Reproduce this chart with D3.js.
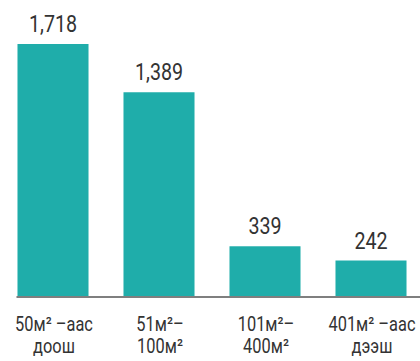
<!DOCTYPE html>
<html>
<head>
<meta charset="utf-8">
<script src="https://cdn.jsdelivr.net/npm/d3@7"></script>
<style>
  body { margin: 0; background: #fff; }
</style>
</head>
<body>
<div class="chart"></div>
<script>
var categories = ['50м² –аас|доош', '51м²–|100м²', '101м²–|400м²', '401м² –аас|дээш'];
var values = [1718, 1389, 339, 242];
var valueLabels = ['1,718', '1,389', '339', '242'];

var teal = '#1fadaa';
var textColor = '#333333';
var axisGray = '#7f7f7f';
var font = 'Roboto, "Liberation Sans", sans-serif';
var squeeze = 0.82;   // narrow the font, the original uses a condensed face

var width = 420;
var height = 361;
var baseY = 296;

var svg = d3.select('.chart')
  .append('svg')
  .attr('width', width)
  .attr('height', height);

var x = d3.scaleBand()
  .domain(d3.range(values.length))
  .range([0, 424])
  .paddingInner(0.33)
  .paddingOuter(0.165);

var y = d3.scaleLinear()
  .domain([0, d3.max(values)])
  .range([baseY, 44]);

// bars
svg.selectAll('.bar')
  .data(values)
  .enter().append('rect')
  .attr('class', 'bar')
  .attr('x', function(d, i){ return x(i); })
  .attr('y', function(d){ return y(d); })
  .attr('width', x.bandwidth())
  .attr('height', function(d){ return baseY - y(d); })
  .attr('fill', teal);

// value labels
svg.selectAll('.val')
  .data(values)
  .enter().append('g')
  .attr('class', 'val')
  .attr('transform', function(d, i){
    return 'translate(' + (x(i) + x.bandwidth()/2) + ',' + (y(d) - 12) + ') scale(' + squeeze + ',1)';
  })
  .append('text')
  .attr('text-anchor', 'middle')
  .attr('font-family', font)
  .attr('font-size', '24px')
  .attr('fill', textColor)
  .text(function(d, i){ return valueLabels[i]; });

// baseline
svg.append('line')
  .attr('x1', x(0) - 1)
  .attr('x2', width)
  .attr('y1', baseY + 1)
  .attr('y2', baseY + 1)
  .attr('stroke', axisGray)
  .attr('stroke-width', 2);

// category labels, two lines each
var cats = svg.selectAll('.cat')
  .data(categories)
  .enter().append('g')
  .attr('class', 'cat')
  .attr('transform', function(d, i){
    return 'translate(' + (x(i) + x.bandwidth()/2 + 1) + ',331) scale(' + squeeze + ',1)';
  })
  .append('text')
  .attr('text-anchor', 'middle')
  .attr('font-family', font)
  .attr('font-size', '20px')
  .attr('fill', textColor);

cats.each(function(d){
  d3.select(this).selectAll('tspan')
    .data(d.split('|'))
    .enter().append('tspan')
    .attr('x', 0)
    .attr('y', function(l, j){ return j*22; })
    .text(function(l){ return l; });
});
</script>
</body>
</html>
